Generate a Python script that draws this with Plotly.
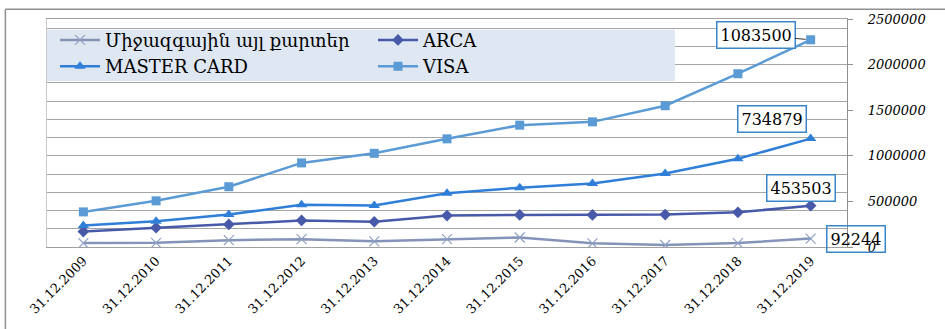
import numpy as np
import plotly.graph_objects as go

categories = ["31.12.2009", "31.12.2010", "31.12.2011", "31.12.2012", "31.12.2013",
              "31.12.2014", "31.12.2015", "31.12.2016", "31.12.2017", "31.12.2018", "31.12.2019"]

# Non-stacked series
intl = [43000, 46000, 75000, 86000, 62000, 86000, 104000, 40000, 22000, 43000, 92244]
# Stacked series (own values; drawn cumulatively ARCA -> MASTER CARD -> VISA)
arca = [169000, 212000, 248000, 291000, 277000, 345000, 352000, 352000, 356000, 380000, 453503]
master = [68000, 71000, 108000, 172000, 178000, 245000, 298000, 345000, 449000, 587000, 734879]
visa = [148000, 223000, 305000, 459000, 572000, 596000, 686000, 675000, 744000, 933000, 1083500]

names = ["Միջազգային այլ քարտեր", "ARCA", "MASTER CARD", "VISA"]
y_ticks = [0, 500000, 1000000, 1500000, 2000000, 2500000]

arca_c = np.array(arca)
master_c = arca_c + np.array(master)
visa_c = master_c + np.array(visa)

serif = "DejaVu Serif, Liberation Serif, serif"

fig = go.Figure()
fig.add_trace(go.Scatter(x=categories, y=intl, name=names[0], mode="lines+markers",
                         line=dict(color="#8494b8", width=2.5),
                         marker=dict(symbol="x-thin", size=10, line=dict(color="#8fa0c4", width=1.2))))
fig.add_trace(go.Scatter(x=categories, y=arca_c, name=names[1], mode="lines+markers",
                         line=dict(color="#4759a8", width=2.5),
                         marker=dict(symbol="diamond", size=9, color="#4759a8")))
fig.add_trace(go.Scatter(x=categories, y=master_c, name=names[2], mode="lines+markers",
                         line=dict(color="#2f7fd8", width=2.5),
                         marker=dict(symbol="triangle-up", size=10, color="#2f7fd8")))
fig.add_trace(go.Scatter(x=categories, y=visa_c, name=names[3], mode="lines+markers",
                         line=dict(color="#5b9bd5", width=2.5),
                         marker=dict(symbol="square", size=9, color="#5b9bd5")))
# invisible helper so the right-hand value axis is drawn
fig.add_trace(go.Scatter(x=categories, y=intl, yaxis="y2", mode="lines", opacity=0,
                         showlegend=False, hoverinfo="skip", line=dict(width=0)))

last = categories[-1]
box = "#3a86c8"
fig.add_annotation(x=last, y=visa_c[-1], text=f"{visa[-1]}", showarrow=True,
                   ax=-55, ay=-5, arrowhead=0, arrowwidth=1, arrowcolor="#333333", standoff=5,
                   bordercolor=box, borderwidth=1.5, borderpad=3, bgcolor="white",
                   font=dict(family=serif, size=16, color="black"))
fig.add_annotation(x=last, y=master_c[-1], text=f"{master[-1]}", showarrow=False,
                   xshift=-39, yshift=20,
                   bordercolor=box, borderwidth=1.5, borderpad=3, bgcolor="white",
                   font=dict(family=serif, size=16, color="black"))
fig.add_annotation(x=last, y=arca_c[-1], text=f"{arca[-1]}", showarrow=False,
                   xshift=-10, yshift=18,
                   bordercolor=box, borderwidth=1.5, borderpad=3, bgcolor="white",
                   font=dict(family=serif, size=16, color="black"))
fig.add_annotation(x=last, y=intl[-1], text=f"{intl[-1]}", showarrow=False,
                   xshift=45, yshift=0,
                   bordercolor=box, borderwidth=1.5, borderpad=3, bgcolor="rgba(0,0,0,0)",
                   font=dict(family=serif, size=16, color="black"))

fig.update_layout(
    width=945, height=329,
    margin=dict(l=47, r=98, t=16, b=81),
    paper_bgcolor="white", plot_bgcolor="white",
    showlegend=True,
    legend=dict(orientation="h", x=0.01, y=0.988, xanchor="left", yanchor="top",
                bgcolor="rgba(0,0,0,0)", entrywidth=263, entrywidthmode="pixels",
                font=dict(family=serif, size=18, color="black"),
                traceorder="normal", itemwidth=40, tracegroupgap=0),
    xaxis=dict(type="category", range=[-0.5, 10.5], showgrid=False,
               showline=True, linecolor="#a0a0a0", linewidth=1.3, mirror=True,
               ticks="", tickangle=-45,
               tickfont=dict(family=serif, size=13, color="black")),
    yaxis=dict(range=[0, 2500000], dtick=200000, tick0=0, showgrid=True,
               gridcolor="#a6a6a6", gridwidth=1.3, showticklabels=False, ticks="",
               zeroline=False, showline=True, linecolor="#c8c8c8", linewidth=1),
    yaxis2=dict(range=[0, 2500000], tickvals=y_ticks, overlaying="y", side="right",
                showgrid=False, zeroline=False, showline=True, linecolor="#909090",
                linewidth=1.3, ticks="outside", ticklen=5, tickcolor="#909090",
                tickformat="d", ticklabelstandoff=12,
                tickfont=dict(family=serif, size=13, color="black", style="italic")),
    shapes=[
        dict(type="rect", xref="paper", yref="paper", x0=0, x1=0.785, y0=0.7284, y1=0.9526,
             fillcolor="#dee7f2", line=dict(width=0), layer="above"),
        dict(type="line", xref="paper", yref="paper", x0=-0.052, x1=1.2, y0=1.043, y1=1.043,
             line=dict(color="#909090", width=1.5)),
        dict(type="line", xref="paper", yref="paper", x0=-0.052, x1=-0.052, y0=1.043, y1=-0.4,
             line=dict(color="#909090", width=1.5)),
    ],
)
fig.write_html("out.html")
